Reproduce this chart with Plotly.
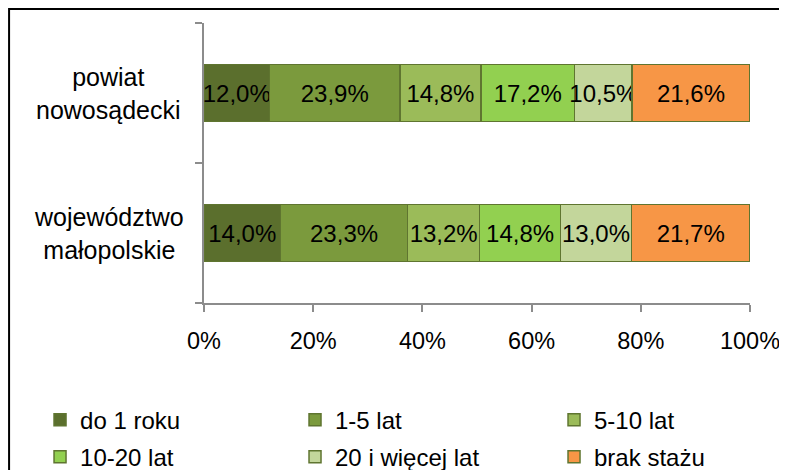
import plotly.graph_objects as go

categories = ["województwo<br>małopolskie", "powiat<br>nowosądecki"]
series_names = ["do 1 roku", "1-5 lat", "5-10 lat", "10-20 lat", "20 i więcej lat", "brak stażu"]
series_colors = ["#5b6f2d", "#7b9a3d", "#9bbb59", "#92d050", "#c3d69b", "#f79646"]

do_1_roku = [14.0, 12.0]
lat_1_5 = [23.3, 23.9]
lat_5_10 = [13.2, 14.8]
lat_10_20 = [14.8, 17.2]
lat_20_plus = [13.0, 10.5]
brak_stazu = [21.7, 21.6]
series_values = [do_1_roku, lat_1_5, lat_5_10, lat_10_20, lat_20_plus, brak_stazu]

x_ticks = [0, 20, 40, 60, 80, 100]
x_tick_labels = ["0%", "20%", "40%", "60%", "80%", "100%"]

font_family = "Liberation Sans, Arial, sans-serif"
legend_ids = ["legend", "legend2", "legend3"]

fig = go.Figure()
for i, (name, color, vals) in enumerate(zip(series_names, series_colors, series_values)):
    fig.add_trace(
        go.Bar(
            y=categories,
            x=vals,
            name=name,
            orientation="h",
            width=0.405,
            marker=dict(color=color, line=dict(color="#5f7530", width=1.5)),
            text=[f"{v:.1f}%".replace(".", ",") for v in vals],
            textposition="inside",
            insidetextanchor="middle",
            constraintext="none",
            textangle=0,
            textfont=dict(family=font_family, size=24, color="black"),
            cliponaxis=False,
            legend=legend_ids[i % 3],
            legendgroup=name,
        )
    )

# category labels, centred like the original
for cat in categories:
    fig.add_annotation(
        x=-0.174,
        xref="paper",
        y=cat,
        yref="y",
        text=cat,
        showarrow=False,
        align="center",
        xanchor="center",
        yanchor="middle",
        font=dict(size=25),
    )

legend_style = dict(
    orientation="v",
    xref="container",
    yref="container",
    y=0.1712,
    xanchor="left",
    yanchor="top",
    itemwidth=30,
    tracegroupgap=3,
    font=dict(size=24),
    bgcolor="rgba(0,0,0,0)",
)

fig.update_layout(
    barmode="stack",
    width=787,
    height=470,
    margin=dict(l=196, r=45, t=15, b=175, autoexpand=False),
    plot_bgcolor="white",
    paper_bgcolor="white",
    font=dict(family=font_family, size=24, color="black"),
    xaxis=dict(
        range=[0, 100],
        tickvals=x_ticks,
        ticktext=x_tick_labels,
        showgrid=False,
        zeroline=False,
        showline=True,
        linecolor="#8c8c8c",
        linewidth=1.5,
        ticks="outside",
        ticklen=7,
        tickcolor="#8c8c8c",
        tickwidth=1.5,
        tickfont=dict(size=23.5),
        ticklabelstandoff=9,
        automargin=False,
    ),
    yaxis=dict(
        showline=True,
        linecolor="#8c8c8c",
        linewidth=1.5,
        ticks="outside",
        tickson="boundaries",
        ticklen=7,
        tickcolor="#8c8c8c",
        tickwidth=1.5,
        showgrid=False,
        showticklabels=False,
        automargin=False,
    ),
    legend=dict(legend_style, x=0.0407),
    legend2=dict(legend_style, x=0.3647),
    legend3=dict(legend_style, x=0.6938),
    showlegend=True,
    shapes=[
        dict(
            type="rect",
            xref="paper",
            yref="paper",
            x0=-0.357,
            x1=1.2,
            y0=1.05,
            y1=-0.8,
            line=dict(color="black", width=2),
            fillcolor="rgba(0,0,0,0)",
            layer="below",
        )
    ],
)

fig.write_html("out.html")
